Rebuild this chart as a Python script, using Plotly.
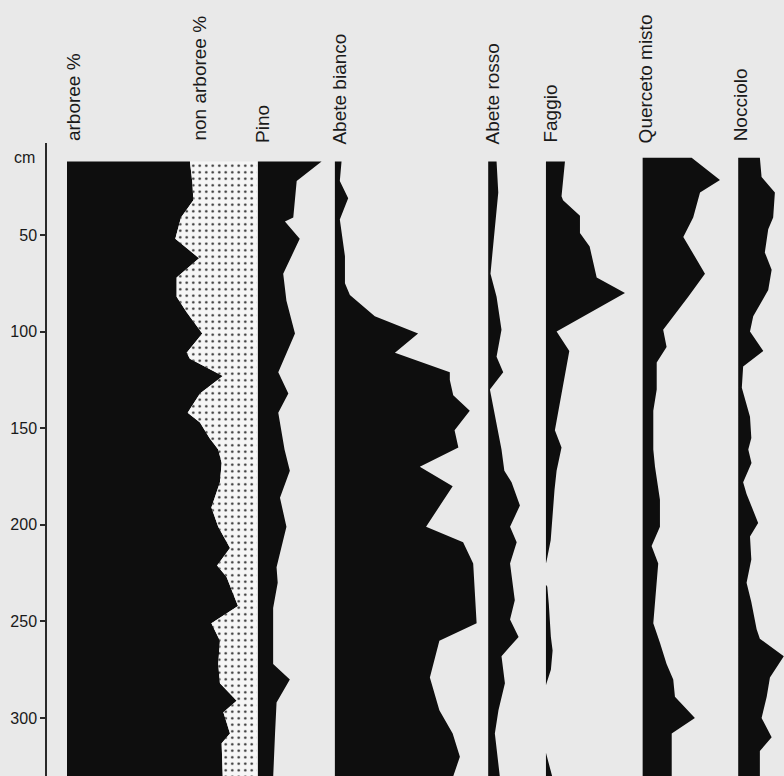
import plotly.graph_objects as go

# ---------------- data (depth in cm, values in %) ----------------
ARB_DEPTH = [12, 23, 32, 41, 52, 62, 72, 82, 90, 101, 111, 114, 123, 132, 142, 147, 155, 161, 168, 178,
             191, 201, 212, 221, 227, 242, 251, 260, 272, 282, 291, 297, 308, 313, 331]
ARBOREE = [64.7, 66, 66.5, 60, 57, 69.5, 57.7, 57.7, 63, 71.2, 63, 64.7, 82, 70, 63.5, 70, 75, 79.6, 81.4, 80.5,
           76, 79.6, 85.8, 79, 84, 90, 76, 80.5, 79.6, 80.5, 89.3, 82.3, 85.8, 81.4, 82]

PINO_DEPTH = [12, 22, 41, 43, 52, 70, 84, 101, 121, 132, 142, 161, 172, 186, 201, 222, 230, 243, 272, 280,
              292, 308, 331]
PINO = [33.5, 20.4, 18.6, 14.2, 22, 13.3, 15, 19.5, 10.7, 16, 10.7, 14, 16.8, 11.6, 15, 9.8, 10.4, 8, 8, 16.8,
        9.8, 9, 8]

ABB_DEPTH = [12, 22, 31, 42, 61, 75, 81, 92, 101, 111, 121, 125, 133, 141, 151, 160, 170, 180, 201, 209,
             220, 251, 260, 279, 296, 308, 320, 331]
ABETE_BIANCO = [3.5, 2.6, 7, 2.6, 5.3, 5.3, 7.9, 21, 43.8, 31.6, 60.5, 60.5, 62.3, 71, 63, 65, 44.7, 62, 48, 67.5,
                72.8, 74.6, 55, 50, 55, 62, 65.8, 62]

ABR_DEPTH = [12, 28, 59, 70, 82, 99, 113, 121, 130, 141, 161, 172, 178, 190, 201, 209, 220, 239, 249, 258,
             268, 282, 296, 308, 317, 331]
ABETE_ROSSO = [4.4, 5.3, 2.3, 1.2, 4.4, 7, 4.4, 7.9, 0.9, 3, 7, 8.5, 12.3, 16.7, 11.5, 15, 11.5, 14, 11.5, 16,
               7, 8.8, 5.4, 3.5, 4.4, 6.2]

FAG_DEPTH = [12, 30, 32, 40, 49, 56, 65, 72, 80, 100, 110, 127, 151, 160, 172, 182, 196, 208, 218, 220,
             231, 232, 241, 258, 265, 275, 282, 283, 318, 331]
FAGGIO = [10, 8.2, 9, 17.9, 17.9, 23, 25, 26.7, 41.6, 5.6, 12.3, 9, 4.7, 8.2, 5.6, 4.5, 3.5, 2.5, 0.5, 0,
          0, 0.7, 1.5, 2.6, 3.5, 2.6, 0.3, 0, 0, 3.5]

QUE_DEPTH = [10, 21.5, 28, 41, 51, 70, 82, 99, 108, 116, 130, 141, 161, 170, 187, 201, 211, 220, 251, 261,
             272, 280, 289, 300, 308, 331]
QUERCETO = [25.8, 40.7, 30.2, 26.6, 21.4, 32.8, 24, 10.8, 12.6, 7.4, 7.4, 5.6, 5.6, 6.5, 9.1, 9.1, 4.7, 8.2, 5.6, 9.1,
            12.6, 16.1, 17, 27.5, 15.3, 15.3]

NOC_DEPTH = [10, 20, 28, 41, 47, 59, 68, 78.5, 92, 100, 110, 118, 129, 144, 155, 161, 168, 178, 184, 199,
             206, 218, 230, 240, 254, 259, 268, 279, 289, 300, 310, 317, 331]
NOCCIOLO = [11.4, 12.3, 19.3, 18.4, 15.8, 14, 17.6, 15.8, 7.9, 6.2, 13.2, 2.6, 1.9, 6.2, 6.9, 5.3, 7, 2.6, 4.4, 10.5,
            6.2, 6.9, 4.4, 6.9, 9.7, 11.4, 24, 16.7, 15, 12.3, 17.6, 11.4, 11.4]

TITLES = ["arboree %", "non arboree %", "Pino", "Abete bianco", "Abete rosso", "Faggio", "Querceto misto", "Nocciolo"]
DEPTH_TICKS = [50, 100, 150, 200, 250, 300]

# ---------------- layout constants ----------------
BG = "#e9e9e9"
INK = "#0e0e0e"
FONT = "Liberation Sans, Arial, sans-serif"
# column baselines on the shared % axis
BASE_PINO = 100.5
BASE_ABB = 141.0
BASE_ABR = 221.7
BASE_FAG = 252.1
BASE_QUE = 303.0
BASE_NOC = 353.3
# title x positions (same % axis) and bottom offsets (px)
TITLE_X = [3.2, 69.5, 102.6, 143.2, 223.7, 254.0, 304.7, 354.7]
TITLE_DROP = [0, 0, -2, -4, -4, -2, -2, 0]

fig = go.Figure()


def column(depths, values, base):
    xs = [base] + [base + v for v in values] + [base]
    ys = [depths[0]] + list(depths) + [depths[-1]]
    fig.add_trace(go.Scatter(x=xs, y=ys, mode="lines", fill="toself", fillcolor=INK,
                             line=dict(width=0, color=INK), hoverinfo="skip", showlegend=False))


# arboree (black) from 0
column(ARB_DEPTH, ARBOREE, 0)
# non arboree (dotted) from arboree boundary to 100
fig.add_trace(go.Scatter(
    x=list(ARBOREE) + [100, 100],
    y=list(ARB_DEPTH) + [ARB_DEPTH[-1], ARB_DEPTH[0]],
    mode="lines", fill="toself",
    fillpattern=dict(shape=".", fgcolor="#2a2a2a", bgcolor="#f6f6f6", size=6.5, solidity=0.12, fillmode="replace"),
    line=dict(width=0), hoverinfo="skip", showlegend=False))
column(PINO_DEPTH, PINO, BASE_PINO)
column(ABB_DEPTH, ABETE_BIANCO, BASE_ABB)
column(ABR_DEPTH, ABETE_ROSSO, BASE_ABR)
column(FAG_DEPTH, FAGGIO, BASE_FAG)
column(QUE_DEPTH, QUERCETO, BASE_QUE)
column(NOC_DEPTH, NOCCIOLO, BASE_NOC)

annotations = []
for t, x, d in zip(TITLES, TITLE_X, TITLE_DROP):
    annotations.append(dict(text=t, x=x, xref="x", y=1, yref="paper", xanchor="center", yanchor="bottom",
                            textangle=-90, showarrow=False, yshift=d,
                            font=dict(family=FONT, size=19, color="#1a1a1a")))
annotations.append(dict(text="cm", x=0, xref="paper", y=10, yref="y", xanchor="right", yanchor="middle",
                        xshift=-10, showarrow=False, font=dict(family=FONT, size=16, color="#1a1a1a")))

fig.update_layout(
    width=784, height=776,
    margin=dict(l=47, r=0, t=143, b=0),
    paper_bgcolor=BG, plot_bgcolor=BG,
    showlegend=False,
    annotations=annotations,
    xaxis=dict(range=[-10.53, 377.4], visible=False, fixedrange=True),
    yaxis=dict(range=[330.0, 2.38], showgrid=False, zeroline=False, showline=True, linecolor="#2a2a2a",
               linewidth=1.5, ticks="outside", ticklen=5, tickwidth=1.5, tickcolor="#2a2a2a",
               tickvals=DEPTH_TICKS, ticktext=[str(v) for v in DEPTH_TICKS],
               tickfont=dict(family=FONT, size=16, color="#1a1a1a"), fixedrange=True),
)

fig.write_html("out.html", config={"displayModeBar": False},
               post_script="document.body.style.margin='0';document.body.style.overflow='hidden';"
                           "document.body.style.background='" + BG + "';")
